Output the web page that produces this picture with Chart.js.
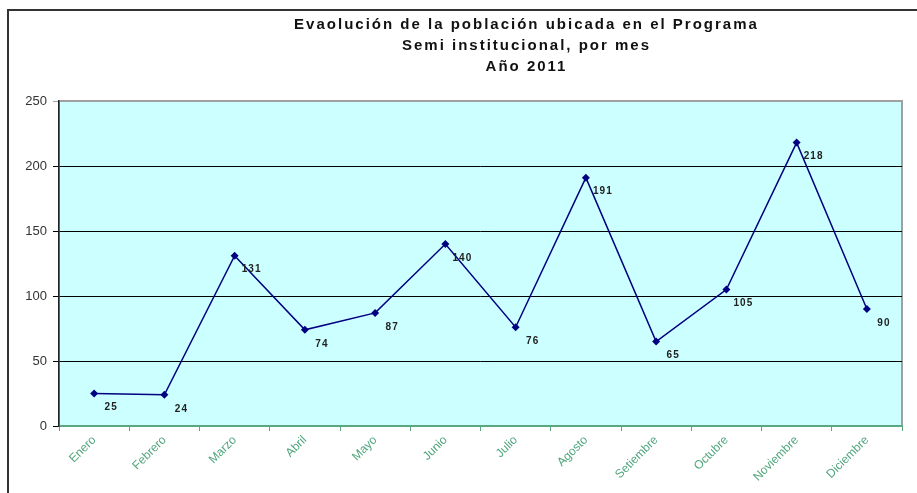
<!DOCTYPE html>
<html>
<head>
<meta charset="utf-8">
<script src="https://cdn.jsdelivr.net/npm/chart.js@4/dist/chart.umd.min.js"></script>
<style>
  html, body { margin: 0; padding: 0; background: #fff; }
  #wrap { width: 917px; height: 493px; position: relative; }
</style>
</head>
<body>
<div id="wrap"><canvas id="lineChart"></canvas></div>
<script>
var months = ['Enero', 'Febrero', 'Marzo', 'Abril', 'Mayo', 'Junio',
  'Julio', 'Agosto', 'Setiembre', 'Octubre', 'Noviembre', 'Diciembre'];
var poblacion = [25, 24, 131, 74, 87, 140, 76, 191, 65, 105, 218, 90];
var yTicks = [0, 50, 100, 150, 200, 250];
var titleLines = [
  'Evaolución de la población ubicada en el Programa',
  'Semi institucional, por mes',
  'Año 2011'
];

// frame, plot background and title
var decor = {
  id: 'decor',
  beforeDraw: function (chart) {
    var ctx = chart.ctx, a = chart.chartArea;
    ctx.save();
    ctx.fillStyle = '#ccffff';
    ctx.fillRect(a.left, a.top, a.right - a.left, a.bottom - a.top);
    ctx.strokeStyle = '#a0a0a0';
    ctx.lineWidth = 2;
    ctx.strokeRect(a.left, a.top, a.right - a.left, a.bottom - a.top);
    ctx.strokeStyle = '#333';
    ctx.lineWidth = 2;
    ctx.beginPath();
    ctx.moveTo(8, 500);
    ctx.lineTo(8, 10);
    ctx.lineTo(920, 10);
    ctx.stroke();
    ctx.fillStyle = '#111';
    ctx.font = 'bold 15px Arial';
    ctx.letterSpacing = '2px';
    ctx.textAlign = 'center';
    ctx.textBaseline = 'middle';
    var cx = (a.left + a.right) / 2 + 46;
    titleLines.forEach(function (t, i) {
      ctx.fillText(t, cx, 25 + i * 21);
    });
    ctx.restore();
  },
  afterDatasetsDraw: function (chart) {
    var ctx = chart.ctx;
    var meta = chart.getDatasetMeta(0);
    ctx.save();
    ctx.fillStyle = '#222';
    ctx.font = 'bold 10px Arial';
    ctx.letterSpacing = '1px';
    ctx.textAlign = 'center';
    ctx.textBaseline = 'middle';
    meta.data.forEach(function (pt, i) {
      ctx.fillText(String(poblacion[i]), pt.x + 17, pt.y + 14);
    });
    ctx.restore();
  }
};

var ctx = document.getElementById('lineChart').getContext('2d');
var lineChart = new Chart(ctx, {
  type: 'line',
  data: {
    labels: months,
    datasets: [
      {
        label: 'Población',
        data: poblacion,
        borderColor: '#000080',
        backgroundColor: '#000080',
        borderWidth: 1.5,
        pointStyle: 'rectRot',
        pointRadius: 4,
        pointBorderWidth: 0,
        fill: false,
        tension: 0,
      },
    ],
  },
  options: {
    responsive: true,
    maintainAspectRatio: false,
    animation: false,
    layout: { padding: { top: 101, right: 15, left: 0, bottom: 0 } },
    plugins: {
      legend: { display: false },
      tooltip: { enabled: false },
    },
    scales: {
      x: {
        offset: true,
        grid: {
          drawOnChartArea: false,
          drawTicks: true,
          tickLength: 5,
          color: '#5aa882',
          offset: true,
        },
        border: { color: '#5aa882', width: 2 },
        ticks: {
          color: '#4fa57c',
          font: { family: 'Arial', size: 12 },
          minRotation: 45,
          maxRotation: 45,
          padding: 2,
        },
        afterFit: function (scale) { scale.height = 67; },
      },
      y: {
        min: 0,
        max: 250,
        afterBuildTicks: function (scale) {
          scale.ticks = yTicks.map(function (v) { return { value: v }; });
        },
        grid: {
          color: function (c) { return c.tick && c.tick.value === 250 ? '#a0a0a0' : '#000'; },
          tickLength: 6,
          lineWidth: 1,
        },
        border: { color: '#222', width: 1.5 },
        ticks: {
          color: '#333',
          font: { family: 'Arial', size: 13 },
          padding: 6,
        },
        afterFit: function (scale) { scale.width = 59; },
      },
    },
  },
  plugins: [decor],
});
</script>
</body>
</html>
